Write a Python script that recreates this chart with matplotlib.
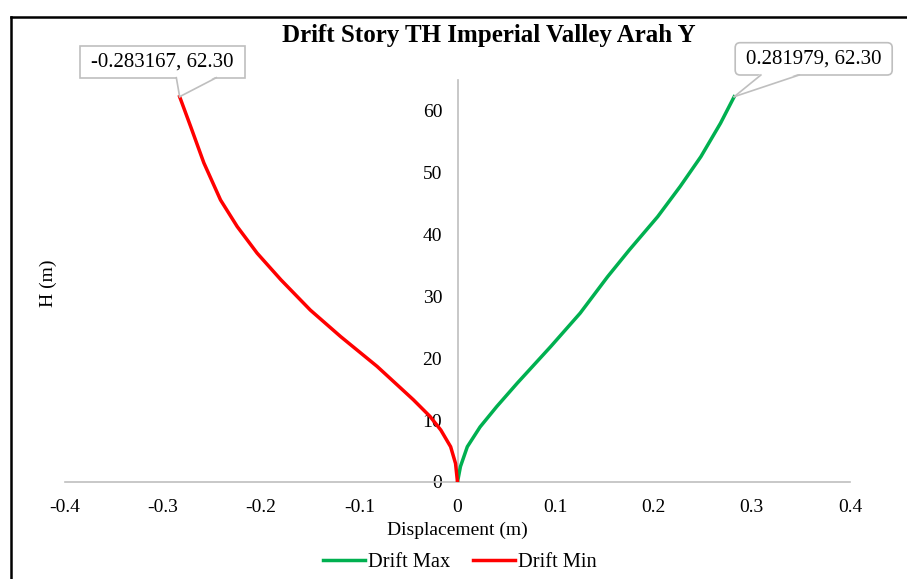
import matplotlib.pyplot as plt
from matplotlib.lines import Line2D
from matplotlib.patches import FancyBboxPatch, Polygon
from matplotlib.transforms import IdentityTransform

# Drift Max (green) and Drift Min (red) : displacement (m) vs height H (m)
max_disp = [0.0, 0.003, 0.010, 0.023, 0.040, 0.061, 0.095, 0.125, 0.153, 0.175,
            0.204, 0.227, 0.248, 0.268, 0.281979]
max_h = [0.0, 2.5, 5.7, 8.9, 12.2, 16.0, 21.9, 27.3, 33.2, 37.5,
         42.9, 47.8, 52.6, 58.0, 62.30]
min_disp = [0.0, -0.002, -0.007, -0.017, -0.028, -0.045, -0.058, -0.082, -0.119,
            -0.150, -0.180, -0.2042, -0.2245, -0.2415, -0.2585, -0.272, -0.283167]
min_h = [0.0, 3.0, 5.7, 8.4, 10.6, 13.3, 15.2, 18.7, 23.5,
         27.8, 32.7, 37.0, 41.3, 45.6, 51.6, 57.5, 62.30]
xticks = [-0.4, -0.3, -0.2, -0.1, 0, 0.1, 0.2, 0.3, 0.4]
yticks = [0, 10, 20, 30, 40, 50, 60]

plt.rcParams['font.family'] = ['Liberation Serif', 'DejaVu Serif']
grey = '#bfbfbf'
W, H = 907, 579

fig = plt.figure(figsize=(W/100, H/100), dpi=100)
ax = fig.add_axes([65/W, 97/H, 785/W, 402/H])

ax.plot(max_disp, max_h, color='#00b050', lw=2.5, label='Drift Max', zorder=3,
        solid_joinstyle='round')
ax.plot(min_disp, min_h, color='#ff0000', lw=2.5, label='Drift Min', zorder=3,
        solid_joinstyle='round')

ax.set_xlim(-0.4, 0.4)
ax.set_ylim(0, 65)
ax.set_xticks(xticks)
ax.set_xticklabels([('%g' % v) for v in xticks])
ax.set_yticks(yticks)

for s in ['top', 'right']:
    ax.spines[s].set_visible(False)
ax.spines['left'].set_position(('data', 0))
for s in ['left', 'bottom']:
    ax.spines[s].set_color(grey)
    ax.spines[s].set_linewidth(1.2)
ax.tick_params(axis='both', length=0, labelsize=14, colors='#000000')
ax.tick_params(axis='x', pad=12)
ax.tick_params(axis='y', pad=11)

ax.set_xlabel('Displacement (m)', fontsize=14, labelpad=4)
fig.text(48/W, (H-283)/H, 'H (m)', rotation=90, fontsize=14,
         ha='center', va='center')
fig.text(489/W, (H-41.7)/H, 'Drift Story TH Imperial Valley Arah Y',
         fontsize=18, fontweight='bold', ha='center', va='baseline')


def callout(x, y, box, base, rounded):
    # box = (left, right, top, bottom) in pixels relative to the tip, up is positive
    tx, ty = ax.transData.transform((x, y))
    l, r, t, b = box
    style = 'round,pad=0,rounding_size=5' if rounded else 'square,pad=0'
    fig.add_artist(FancyBboxPatch((tx + l, ty + b), r - l, t - b, boxstyle=style,
                                  fc='white', ec=grey, lw=1.2,
                                  transform=IdentityTransform(), zorder=5))
    b0, b1 = base
    fig.add_artist(Polygon([(tx, ty), (tx + b0, ty + b + 1.5), (tx + b1, ty + b + 1.5)],
                           closed=True, fc='white', ec='none',
                           transform=IdentityTransform(), zorder=6))
    for bx in base:
        fig.add_artist(Line2D([tx, tx + bx], [ty, ty + b], color=grey, lw=1.2,
                              transform=IdentityTransform(), zorder=7))
    fig.text((tx + (l + r) / 2) / W, (ty + (t + b) / 2) / H,
             '%g, %.2f' % (x, y), fontsize=15, ha='center', va='center',
             zorder=8)


callout(min_disp[-1], min_h[-1], (-99.3, 65, 51, 19), (-3.3, 36.7), False)
callout(max_disp[-1], max_h[-1], (1, 158, 54, 21.7), (26.7, 65), True)

fig.legend(loc='center', bbox_to_anchor=(460/W, (H-562)/H), ncol=2,
           frameon=False, fontsize=14.7, handlelength=2.06, handletextpad=0.15,
           columnspacing=1.1)

# chart frame
fig.add_artist(Line2D([11/W, 11/W], [0, 1-17/H], color='black', lw=1.8,
                      transform=fig.transFigure))
fig.add_artist(Line2D([11/W, 1], [1-17/H, 1-17/H], color='black', lw=1.8,
                      transform=fig.transFigure))

fig.savefig('out.png', dpi=100)
